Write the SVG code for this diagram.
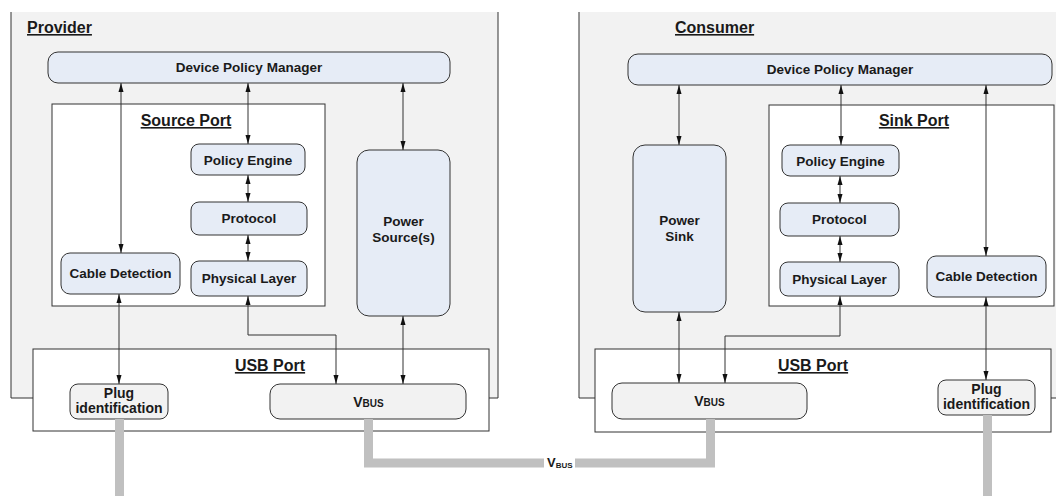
<svg xmlns="http://www.w3.org/2000/svg" width="1056" height="496" viewBox="0 0 1056 496">
  <style>
    text { font-family: "Liberation Sans", Arial, sans-serif; font-weight: bold; fill: #1a1a1a; }
    .panel { fill: #f2f2f2; stroke: none; }
    .frame { fill: none; stroke: #333; stroke-width: 1; }
    .box { fill: #ffffff; stroke: #333; stroke-width: 1; }
    .node { fill: #e6ecf6; stroke: #333; stroke-width: 1; }
    .port { fill: #f2f2f2; stroke: #333; stroke-width: 1; }
    .title { font-size: 16px; text-decoration: underline; }
    .lbl { font-size: 13.5px; text-anchor: middle; }
    .plug { font-size: 14px; text-anchor: middle; }
    .link { fill: none; stroke: #333; stroke-width: 1; marker-start: url(#arr); marker-end: url(#arr); }
    .cable { fill: none; stroke: #c0c0c0; stroke-width: 9; }
  </style>
  <defs>
    <marker id="arr" markerUnits="userSpaceOnUse" markerWidth="9" markerHeight="6" refX="9" refY="3" orient="auto-start-reverse">
      <path d="M0,0.5 L9,3 L0,5.5 Z" fill="#111"/>
    </marker>
  </defs>

  <!-- Provider side -->
  <g id="provider">
    <rect class="panel" x="11" y="12" width="487" height="386"/>
    <path class="frame" d="M11,12 V398 H498 V12"/>
    <text class="title" x="27" y="33">Provider</text>
  </g>
  <g id="provider-usb-port">
    <rect class="box" x="33" y="349" width="456" height="82"/>
    <text class="title" x="270" y="371" text-anchor="middle">USB Port</text>
  </g>
  <g id="provider-dpm">
    <rect class="node" x="48" y="52" width="402" height="31" rx="10"/>
    <text class="lbl" x="249" y="72">Device Policy Manager</text>
  </g>
  <g id="source-port">
    <rect class="box" x="52" y="104" width="273" height="202"/>
    <text class="title" x="186" y="126" text-anchor="middle">Source Port</text>
  </g>
  <g id="provider-policy-engine">
    <rect class="node" x="191" y="144" width="114" height="31" rx="8"/>
    <text class="lbl" x="248" y="165">Policy Engine</text>
  </g>
  <g id="provider-protocol">
    <rect class="node" x="191" y="202" width="116" height="33" rx="8"/>
    <text class="lbl" x="249" y="223">Protocol</text>
  </g>
  <g id="provider-physical-layer">
    <rect class="node" x="191" y="261" width="116" height="35" rx="8"/>
    <text class="lbl" x="249" y="283">Physical Layer</text>
  </g>
  <g id="provider-cable-detection">
    <rect class="node" x="61" y="253" width="119" height="41" rx="9"/>
    <text class="lbl" x="120.5" y="278">Cable Detection</text>
  </g>
  <g id="power-source">
    <rect class="node" x="357" y="150" width="93" height="166" rx="12"/>
    <text class="lbl" x="403.5" y="226">Power</text>
    <text class="lbl" x="403.5" y="242">Source(s)</text>
  </g>
  <g id="provider-plug-id">
    <rect class="port" x="70" y="384" width="98" height="35" rx="8"/>
    <text class="plug" x="119" y="398">Plug</text>
    <text class="plug" x="119" y="413">identification</text>
  </g>
  <g id="provider-vbus">
    <rect class="port" x="270" y="384" width="196" height="35" rx="10"/>
    <text x="368.5" y="407" text-anchor="middle" font-size="14">V<tspan font-size="10">BUS</tspan></text>
  </g>

  <!-- Consumer side -->
  <g id="consumer">
    <rect class="panel" x="579" y="12" width="477" height="386"/>
    <path class="frame" d="M579,12 V398 H1056"/>
    <text class="title" x="675" y="33">Consumer</text>
  </g>
  <g id="consumer-usb-port">
    <rect class="box" x="595" y="349" width="456" height="83"/>
    <text class="title" x="813" y="371" text-anchor="middle">USB Port</text>
  </g>
  <g id="consumer-dpm">
    <rect class="node" x="628" y="54" width="424" height="31" rx="10"/>
    <text class="lbl" x="840" y="74">Device Policy Manager</text>
  </g>
  <g id="sink-port">
    <rect class="box" x="769" y="105" width="285" height="201"/>
    <text class="title" x="914" y="126" text-anchor="middle">Sink Port</text>
  </g>
  <g id="consumer-policy-engine">
    <rect class="node" x="782" y="145" width="117" height="31" rx="8"/>
    <text class="lbl" x="840.5" y="166">Policy Engine</text>
  </g>
  <g id="consumer-protocol">
    <rect class="node" x="780" y="203" width="119" height="33" rx="8"/>
    <text class="lbl" x="839.5" y="224">Protocol</text>
  </g>
  <g id="consumer-physical-layer">
    <rect class="node" x="780" y="262" width="119" height="34" rx="8"/>
    <text class="lbl" x="839.5" y="284">Physical Layer</text>
  </g>
  <g id="consumer-cable-detection">
    <rect class="node" x="927" y="256" width="119" height="41" rx="9"/>
    <text class="lbl" x="986.5" y="281">Cable Detection</text>
  </g>
  <g id="power-sink">
    <rect class="node" x="633" y="145" width="93" height="167" rx="12"/>
    <text class="lbl" x="679.5" y="225">Power</text>
    <text class="lbl" x="679.5" y="241">Sink</text>
  </g>
  <g id="consumer-vbus">
    <rect class="port" x="612" y="383" width="195" height="36" rx="10"/>
    <text x="709.5" y="406" text-anchor="middle" font-size="14">V<tspan font-size="10">BUS</tspan></text>
  </g>
  <g id="consumer-plug-id">
    <rect class="port" x="938" y="380" width="97" height="35" rx="8"/>
    <text class="plug" x="986.5" y="394">Plug</text>
    <text class="plug" x="986.5" y="409">identification</text>
  </g>

  <!-- Connectors -->
  <g id="connectors">
    <!-- provider -->
    <path class="link" d="M121,83 V253"/>
    <path class="link" d="M248,83 V144"/>
    <path class="link" d="M248,175 V202"/>
    <path class="link" d="M248,235 V261"/>
    <path class="link" d="M403,83 V150"/>
    <path class="link" d="M119,294 V384"/>
    <path class="link" d="M248,296 V335 H336 V384"/>
    <path class="link" d="M403,316 V384"/>
    <!-- consumer -->
    <path class="link" d="M679,85 V145"/>
    <path class="link" d="M841,85 V145"/>
    <path class="link" d="M986,85 V256"/>
    <path class="link" d="M840,176 V203"/>
    <path class="link" d="M840,236 V262"/>
    <path class="link" d="M679,312 V383"/>
    <path class="link" d="M840,296 V336 H725 V383"/>
    <path class="link" d="M986,297 V380"/>
    <!-- cables between the two ports -->
    <path class="cable" d="M119.5,419 V496"/>
    <path class="cable" d="M368.5,419 V463 H710.5 V419"/>
    <path class="cable" d="M987.5,415 V496"/>
    <rect x="544" y="456" width="31" height="14" fill="#ffffff"/>
    <text x="547" y="467" font-size="13">V<tspan font-size="8" dy="1">BUS</tspan></text>
  </g>
</svg>
